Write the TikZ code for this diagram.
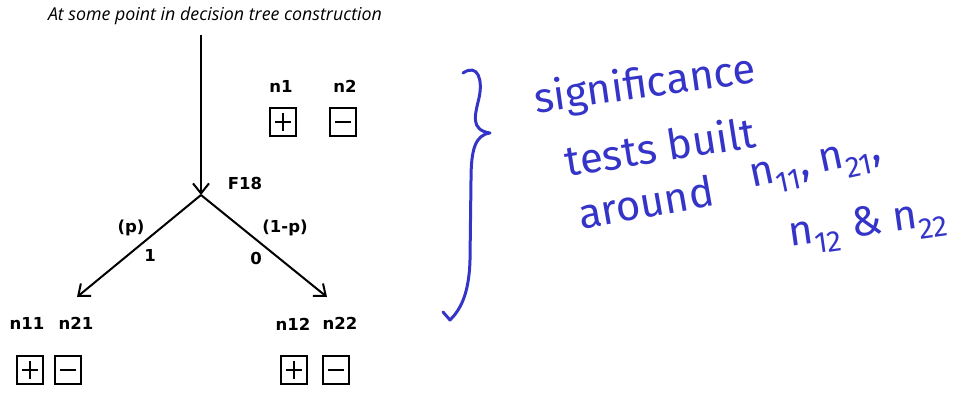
\documentclass[tikz,border=0pt]{standalone}
\usepackage{fontspec}
\setmainfont{DejaVu Sans}
\newfontfamily\titlefont{Open Sans}
\newfontfamily\handfont{Fira Sans}
\usetikzlibrary{arrows.meta}
\definecolor{inkblue}{RGB}{52,52,200}
\begin{document}
\begin{tikzpicture}[x=1pt,y=-1pt,
  every node/.style={font=\bfseries\fontsize{16.5}{18}\selectfont, inner sep=0pt},
  branch/.style={line width=2pt, -{Straight Barb[length=10pt,width=16pt]}},
  countbox/.style={draw, line width=2pt, minimum width=26pt, minimum height=28pt},
  plusbox/.style={countbox, path picture={
    \draw[line width=1.8pt] ([xshift=-8pt]path picture bounding box.center) -- ([xshift=8pt]path picture bounding box.center)
      ([yshift=-9pt]path picture bounding box.center) -- ([yshift=9pt]path picture bounding box.center);}},
  minusbox/.style={countbox, path picture={
    \draw[line width=1.8pt] ([xshift=-8pt]path picture bounding box.center) -- ([xshift=8pt]path picture bounding box.center);}},
  ink/.style={inkblue, font=\handfont\fontsize{42}{44}\selectfont}]
  \useasboundingbox (0,0) rectangle (971,396);
  % Title
  \node[font=\titlefont\itshape\fontsize{17.8}{20}\selectfont] (title) at (215,16) {At some point in decision tree construction};
  % Split on F18
  \coordinate (top) at (201,35);
  \coordinate (split) at (201,195);
  \coordinate (leftend) at (77,297);
  \coordinate (rightend) at (327,297);
  \node (feat) at (245,183) {F18};
  \draw[branch] (top) -- (split);
  \draw[branch] (split) -- (leftend);
  \draw[branch] (split) -- (rightend);
  % Branch labels
  \node (pleft) at (131,228) {(p)};
  \node (one) at (150,255) {1};
  \node (pright) at (285,228) {(1-p)};
  \node (zero) at (256,258) {0};
  % Counts before split
  \node (n1) at (281,86) {n1};
  \node (n2) at (345,86) {n2};
  \node[plusbox] (b1) at (283,122) {};
  \node[minusbox] (b2) at (343,122) {};
  % Counts on branch 1
  \node (n11) at (27,323) {n11};
  \node (n21) at (76,323) {n21};
  \node[plusbox] (b11) at (30,370) {};
  \node[minusbox] (b21) at (68,370) {};
  % Counts on branch 0
  \node (n12) at (293,324) {n12};
  \node (n22) at (340,323) {n22};
  \node[plusbox] (b12) at (294,370) {};
  \node[minusbox] (b22) at (336,370) {};
  % Handwritten note
  \draw[inkblue, line width=3pt, line cap=round, line join=round]
    (463,73) .. controls (478,63) and (483,80) .. (479,98)
    .. controls (475,115) and (470,130) .. (490,133)
    .. controls (475,135) and (471,150) .. (471,180) -- (470,260)
    .. controls (469,295) and (460,310) .. (450,320) -- (443,312);
  \node[ink, rotate=8] (sig) at (645,86) {significance};
  \node[ink, rotate=9] (tests) at (660,146) {tests built};
  \node[ink, rotate=10] (around) at (646,202) {around};
  \node[ink, rotate=12] (first) at (816,168) {n\textsubscript{11}, n\textsubscript{21},};
  \node[ink, rotate=8] (second) at (868,226) {n\textsubscript{12} \& n\textsubscript{22}};
\end{tikzpicture}
\end{document}
